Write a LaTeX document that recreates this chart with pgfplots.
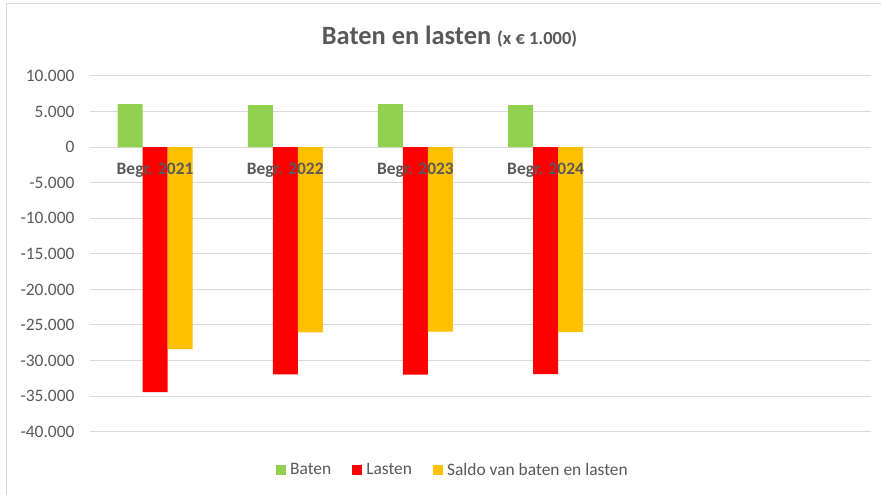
\documentclass[border=0pt]{standalone}
\usepackage{fontspec}
\setmainfont{Carlito}
\usepackage{pgfplots}
\pgfplotsset{compat=1.18}
\definecolor{txt}{HTML}{595959}
\definecolor{gridc}{HTML}{D9D9D9}
\definecolor{baten}{HTML}{92D050}
\definecolor{lasten}{HTML}{FF0000}
\definecolor{saldo}{HTML}{FFC000}
\begin{document}
\begin{tikzpicture}[x=1bp,y=1bp]
\path[use as bounding box] (0,0) rectangle (881,495);
\fill[white] (0,0) rectangle (881,495);
\draw[gridc, line width=1bp] (6.5,-5) rectangle (895,491.7);
\node[anchor=base, text=txt, inner sep=0pt] at (449.5,450.7) {\fontsize{26.5}{30}\selectfont\bfseries Baten en lasten {\fontsize{18.5}{20}\selectfont (x € 1.000)}};
\begin{axis}[
  at={(90bp,63.3bp)}, anchor=south west,
  scale only axis, width=781bp, height=355.7bp,
  xmin=-0.5, xmax=5.5, ymin=-40000, ymax=10000,
  scaled y ticks=false,
  ybar=0pt, bar width=25bp,
  axis x line*=middle, axis y line*=left,
  x axis line style={gridc, line width=1bp},
  y axis line style={draw=none},
  major tick length=0pt,
  xtick=\empty,
  ytick={-40000,-35000,-30000,-25000,-20000,-15000,-10000,-5000,0,5000,10000},
  yticklabels={-40.000,-35.000,-30.000,-25.000,-20.000,-15.000,-10.000,-5.000,0,5.000,10.000},
  y tick label style={font=\fontsize{17.5}{20}\selectfont, text=txt, xshift=-12bp},
  ymajorgrids, grid style={gridc, line width=1bp},
  legend columns=3,
  legend style={draw=none, fill=none, at={(0.466,-0.1077)}, anchor=center,
    font=\fontsize{17.5}{20}\selectfont, text=txt,
    nodes={inner ysep=2bp, inner xsep=4bp},
    /tikz/every even column/.append style={column sep=17bp}},
  legend image code/.code={\fill[#1] (0bp,-5bp) rectangle (10bp,5bp);},
]
\addplot[fill=baten, draw=none] coordinates {(0,6050) (1,5900) (2,6050) (3,5900)};
\addplot[fill=lasten, draw=none] coordinates {(0,-34450) (1,-31930) (2,-31980) (3,-31920)};
\addplot[fill=saldo, draw=none] coordinates {(0,-28400) (1,-26030) (2,-25930) (3,-26020)};
\legend{Baten,Lasten,Saldo van baten en lasten}
\node[anchor=north, text=txt, font=\fontsize{17.5}{20}\selectfont\bfseries, yshift=-12bp] at (axis cs:0,0) {Begr. 2021};
\node[anchor=north, text=txt, font=\fontsize{17.5}{20}\selectfont\bfseries, yshift=-12bp] at (axis cs:1,0) {Begr. 2022};
\node[anchor=north, text=txt, font=\fontsize{17.5}{20}\selectfont\bfseries, yshift=-12bp] at (axis cs:2,0) {Begr. 2023};
\node[anchor=north, text=txt, font=\fontsize{17.5}{20}\selectfont\bfseries, yshift=-12bp] at (axis cs:3,0) {Begr. 2024};
\end{axis}
\end{tikzpicture}
\end{document}
